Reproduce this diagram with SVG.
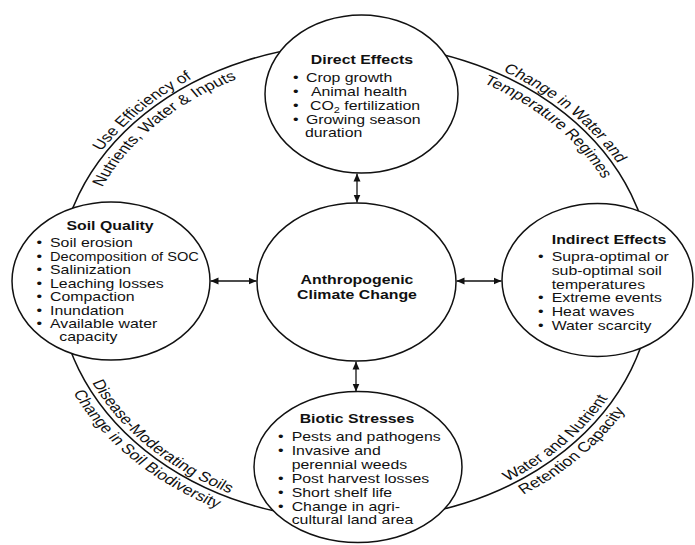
<svg xmlns="http://www.w3.org/2000/svg" xmlns:xlink="http://www.w3.org/1999/xlink" width="695" height="545" viewBox="0 0 695 545">
<style>
.node{fill:#fff;stroke:#111;stroke-width:1.5}
.ring{fill:none;stroke:#111;stroke-width:1.5}
.conn{stroke:#111;stroke-width:1.3;fill:none;marker-start:url(#ah);marker-end:url(#ah)}
text{font-family:"Liberation Sans",Arial,sans-serif;font-size:13px;fill:#111}
.t{font-weight:bold}
.b{text-anchor:middle}
.arc{font-size:14px}
</style>
<defs>
<marker id="ah" viewBox="0 0 8 8" refX="8" refY="4" markerWidth="8" markerHeight="8" markerUnits="userSpaceOnUse" orient="auto-start-reverse"><path d="M0,0.5 L8,4 L0,7.5 Z" fill="#111"/></marker>
<path id="p-tl-out" d="M 43.14 282 A 242 242 0 0 1 285.14 40"/>
<path id="p-tl-in" d="M 61.14 282 A 224 224 0 0 1 285.14 58"/>
<path id="p-tr-out" d="M 285.14 40 A 242 242 0 0 1 527.14 282"/>
<path id="p-tr-in" d="M 285.14 58 A 224 224 0 0 1 509.14 282"/>
<path id="p-bl-in" d="M 51.14 282 A 234 234 0 0 0 285.14 516"/>
<path id="p-bl-out" d="M 33.14 282 A 252 252 0 0 0 285.14 534"/>
<path id="p-br-in" d="M 285.14 516 A 234 234 0 0 0 519.14 282"/>
<path id="p-br-out" d="M 285.14 534 A 252 252 0 0 0 537.14 282"/>
</defs>
<rect width="695" height="545" fill="#fff"/>
<g id="connectors">
<ellipse class="ring" cx="355" cy="282" rx="297" ry="238"/>
<line class="conn" x1="357" y1="173.5" x2="357" y2="202.5"/>
<line class="conn" x1="356" y1="361.5" x2="356" y2="391.5"/>
<line class="conn" x1="210.5" y1="281" x2="256.5" y2="281"/>
<line class="conn" x1="456.5" y1="281" x2="501.5" y2="281"/>
</g>
<g id="ring-labels" transform="scale(1.245 1)">
<text class="arc"><textPath xlink:href="#p-tl-out" href="#p-tl-out" startOffset="50%" text-anchor="middle">Use Efficiency of</textPath></text>
<text class="arc"><textPath xlink:href="#p-tl-in" href="#p-tl-in" startOffset="50%" text-anchor="middle">Nutrients, Water &amp; Inputs</textPath></text>
<text class="arc"><textPath xlink:href="#p-tr-out" href="#p-tr-out" startOffset="50%" text-anchor="middle">Change in Water and</textPath></text>
<text class="arc"><textPath xlink:href="#p-tr-in" href="#p-tr-in" startOffset="50%" text-anchor="middle">Temperature Regimes</textPath></text>
<text class="arc"><textPath xlink:href="#p-bl-in" href="#p-bl-in" startOffset="50%" text-anchor="middle">Disease-Moderating Soils</textPath></text>
<text class="arc"><textPath xlink:href="#p-bl-out" href="#p-bl-out" startOffset="50%" text-anchor="middle">Change in Soil Biodiversity</textPath></text>
<text class="arc"><textPath xlink:href="#p-br-in" href="#p-br-in" startOffset="51%" text-anchor="middle">Water and Nutrient</textPath></text>
<text class="arc"><textPath xlink:href="#p-br-out" href="#p-br-out" startOffset="51%" text-anchor="middle">Retention Capacity</textPath></text>
</g>
<g id="node-center">
<ellipse class="node" cx="356.5" cy="282" rx="99.5" ry="79"/>
<g transform="translate(357 0) scale(1.22 1)">
<text class="t" x="0" y="284" text-anchor="middle">Anthropogenic</text>
<text class="t" x="0" y="299" text-anchor="middle">Climate Change</text>
</g>
</g>
<g id="node-direct">
<ellipse class="node" cx="361.5" cy="94" rx="96.5" ry="79"/>
<g transform="translate(295.7 0) scale(1.22 1)">
<text class="t" x="54.3" y="64.3" text-anchor="middle">Direct Effects</text>
<text class="b" x="0" y="82">•</text><text x="8.4" y="82">Crop growth</text>
<text class="b" x="0" y="96">•</text><text x="12.5" y="96">Animal health</text>
<text class="b" x="0" y="110">•</text><text x="11.7" y="110">CO<tspan font-size="9" dy="3">2</tspan><tspan dy="-3"> fertilization</tspan></text>
<text class="b" x="0" y="124">•</text><text x="8.4" y="124">Growing season</text>
<text x="7.6" y="137.5">duration</text>
</g>
</g>
<g id="node-soil">
<ellipse class="node" cx="111" cy="281" rx="99" ry="79"/>
<g transform="translate(39.3 0) scale(1.22 1)">
<text class="t" x="58" y="230" text-anchor="middle">Soil Quality</text>
<text class="b" x="0" y="247.3">•</text><text x="8.8" y="247.3">Soil erosion</text>
<text class="b" x="0" y="260.8">•</text><text x="8.8" y="260.8" textLength="122" lengthAdjust="spacingAndGlyphs">Decomposition of SOC</text>
<text class="b" x="0" y="274.2">•</text><text x="8.8" y="274.2">Salinization</text>
<text class="b" x="0" y="287.7">•</text><text x="8.8" y="287.7">Leaching losses</text>
<text class="b" x="0" y="301.1">•</text><text x="8.8" y="301.1">Compaction</text>
<text class="b" x="0" y="314.6">•</text><text x="8.8" y="314.6">Inundation</text>
<text class="b" x="0" y="328">•</text><text x="8.8" y="328">Available water</text>
<text x="16.4" y="341.5">capacity</text>
</g>
</g>
<g id="node-indirect">
<ellipse class="node" cx="597.5" cy="280" rx="95.5" ry="76.5"/>
<g transform="translate(540.7 0) scale(1.22 1)">
<text class="t" x="56" y="244" text-anchor="middle">Indirect Effects</text>
<text class="b" x="0" y="261.3">•</text><text x="9" y="261.3">Supra-optimal or</text>
<text x="9" y="275">sub-optimal soil</text>
<text x="9" y="288.7">temperatures</text>
<text class="b" x="0" y="302.4">•</text><text x="9" y="302.4">Extreme events</text>
<text class="b" x="0" y="316">•</text><text x="9" y="316">Heat waves</text>
<text class="b" x="0" y="329.7">•</text><text x="9" y="329.7">Water scarcity</text>
</g>
</g>
<g id="node-biotic">
<ellipse class="node" cx="358" cy="467" rx="104" ry="75.5"/>
<g transform="translate(280.7 0) scale(1.22 1)">
<text class="t" x="62.5" y="423.3" text-anchor="middle">Biotic Stresses</text>
<text class="b" x="0" y="441.5">•</text><text x="9" y="441.5">Pests and pathogens</text>
<text class="b" x="0" y="455.5">•</text><text x="9" y="455.5">Invasive and</text>
<text x="9" y="469.5">perennial weeds</text>
<text class="b" x="0" y="483">•</text><text x="9" y="483">Post harvest losses</text>
<text class="b" x="0" y="497">•</text><text x="9" y="497">Short shelf life</text>
<text class="b" x="0" y="511">•</text><text x="9" y="511">Change in agri-</text>
<text x="9" y="524.5">cultural land area</text>
</g>
</g>
</svg>
